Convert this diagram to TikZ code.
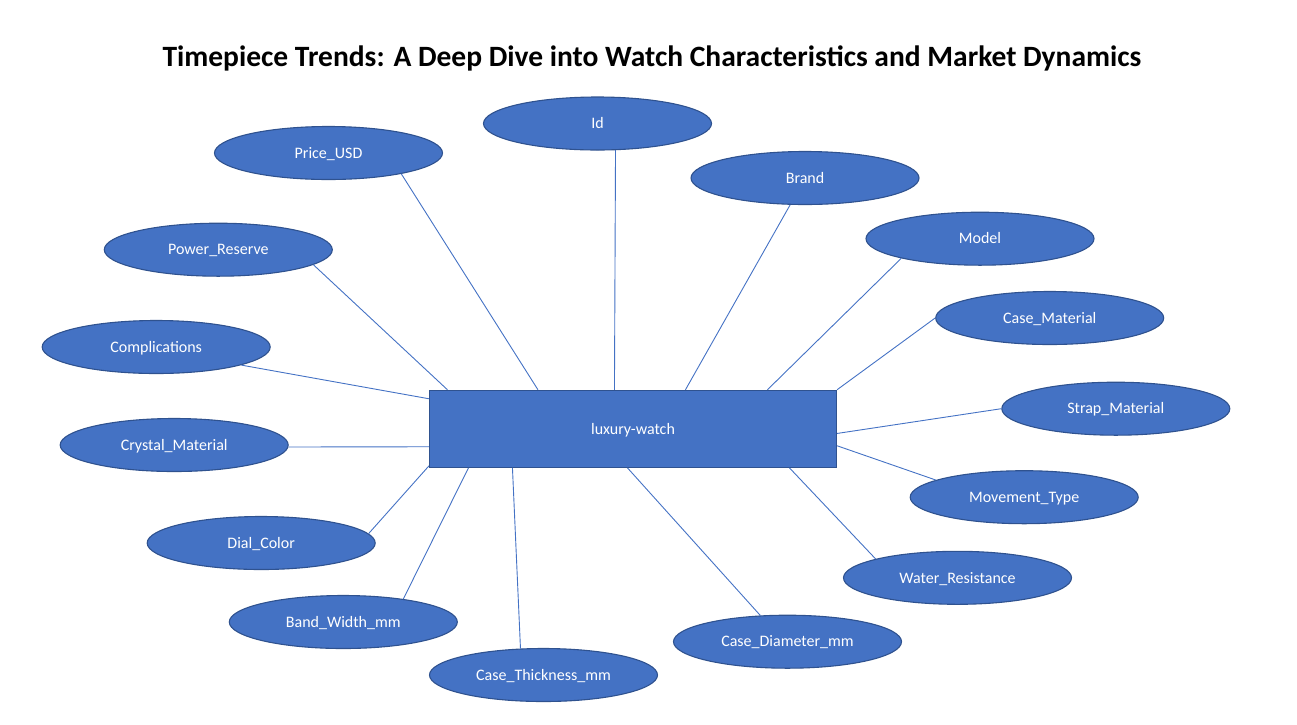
\documentclass[tikz,border=0pt]{standalone}
\usepackage{fontspec}
\setmainfont{Carlito}
\usetikzlibrary{shapes.geometric,calc}
\definecolor{fillblue}{HTML}{4472C4}
\definecolor{edgeblue}{HTML}{2F528F}
\tikzset{
  attr/.style={ellipse, draw=edgeblue, line width=1.1pt, fill=fillblue, text=white,
    minimum width=228pt, minimum height=53pt, inner sep=0pt, text height=11.5pt, text depth=1pt,
    font=\fontsize{16}{19}\selectfont},
  entity/.style={rectangle, draw=edgeblue, line width=1.1pt, fill=fillblue, text=white,
    minimum width=407pt, minimum height=77pt, inner sep=0pt, text height=11.5pt, text depth=1pt,
    font=\fontsize{16}{19}\selectfont},
  link/.style={draw=fillblue, line width=0.9pt}
}
\begin{document}
\begin{tikzpicture}[x=1pt,y=-1pt]
\useasboundingbox (0,0) rectangle (1297,724);
\node[font=\fontsize{29.5}{34}\selectfont\bfseries, anchor=base] (title) at (652,66) {Timepiece Trends: A Deep Dive into Watch Characteristics and Market Dynamics};

\node[entity] (L) at (633,428.8) {luxury-watch};

\node[attr] (id) at (597.5,123.5) {Id};
\node[attr] (price) at (328.5,153) {Price\_USD};
\node[attr] (brand) at (805,178) {Brand};
\node[attr] (power) at (218.3,249.7) {Power\_Reserve};
\node[attr] (model) at (980,238.7) {Model};
\node[attr] (compl) at (156.2,347) {Complications};
\node[attr] (casemat) at (1049.7,318) {Case\_Material};
\node[attr] (strap) at (1115.8,408.7) {Strap\_Material};
\node[attr] (crystal) at (174.2,445) {Crystal\_Material};
\node[attr] (move) at (1024.2,497.2) {Movement\_Type};
\node[attr] (dial) at (261.2,543) {Dial\_Color};
\node[attr] (water) at (957.5,577.8) {Water\_Resistance};
\node[attr] (band) at (343.3,622) {Band\_Width\_mm};
\node[attr] (diam) at (787.5,641.7) {Case\_Diameter\_mm};
\node[attr] (thick) at (543.5,675) {Case\_Thickness\_mm};

\draw[link] ($(L.north west)+(18.5,0)$) -- (power.-9.4);
\draw[link] ($(L.north west)+(109,0)$) -- (price.-16.6);
\draw[link] ($(L.north west)+(185.5,0)$) -- (id.-56.6);
\draw[link] ($(L.north west)+(256.5,0)$) -- (brand.-119.9);
\draw[link] ($(L.north west)+(338.5,0)$) -- (model.-166.3);
\draw[link] (L.north east) -- (casemat.180);
\draw[link] ($(L.north east)+(0,43.7)$) -- (strap.180);
\draw[link] ($(L.north east)+(0,56)$) -- (move.169.1);
\draw[link] ($(L.south west)+(360.5,0)$) -- (water.167.6);
\draw[link] ($(L.south west)+(198.5,0)$) -- (diam.136.6);
\draw[link] ($(L.south west)+(83.5,0)$) -- (thick.131.2);
\draw[link] ($(L.south west)+(39.5,0)$) -- (band.21.6);
\draw[link] ($(L.south west)+(0,-2)$) -- (dial.5.1);
\draw[link] ($(L.north west)+(0,57)$) -- (crystal.-1.9);
\draw[link] ($(L.north west)+(0,9)$) -- (compl.-12.8);
\end{tikzpicture}
\end{document}
